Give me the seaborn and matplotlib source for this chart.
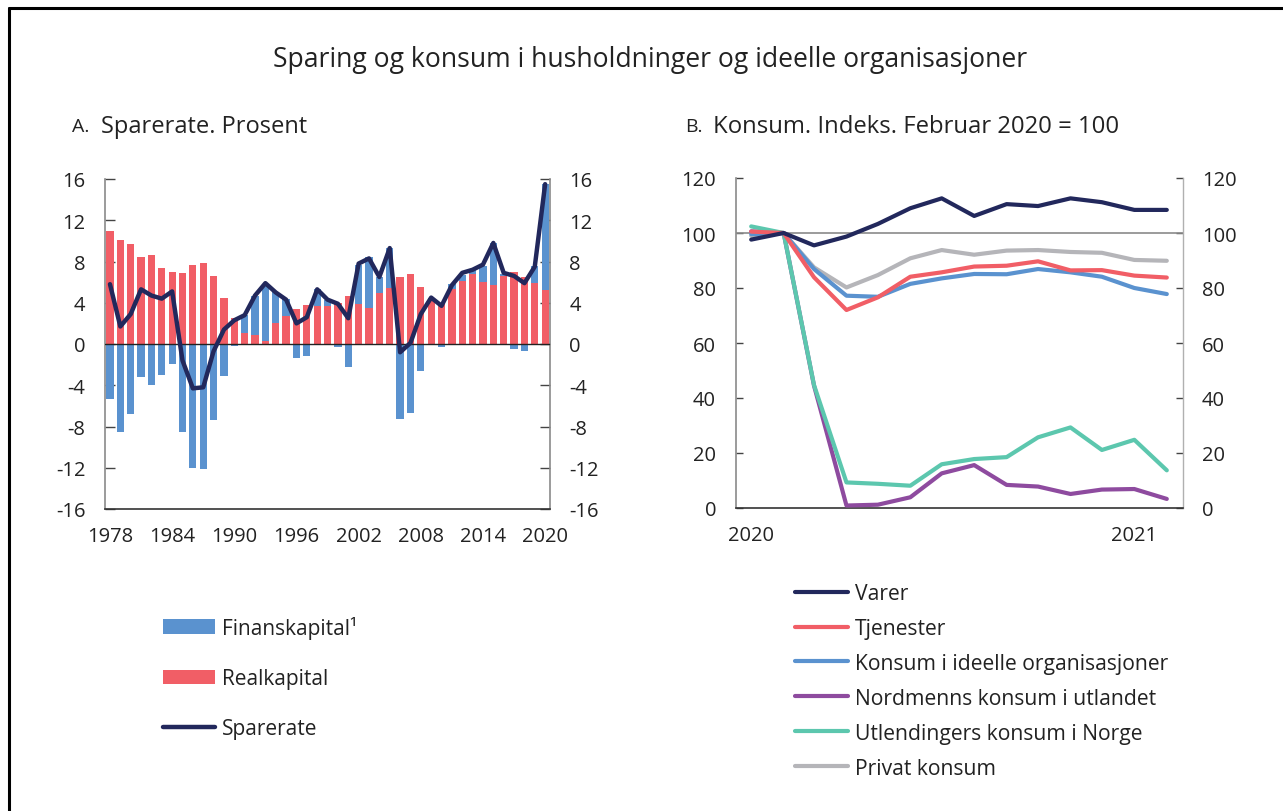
import matplotlib
matplotlib.use("Agg")
import matplotlib.pyplot as plt
from matplotlib.patches import Patch
from matplotlib.lines import Line2D
import seaborn as sns
import pandas as pd
import numpy as np

# ---------------- data ----------------
years = list(range(1978, 2021))
realkapital = [11.0, 10.1, 9.7, 8.4, 8.6, 7.4, 7.0, 6.9, 7.7, 7.9, 6.6, 4.5, 2.5,
               1.1, 0.9, 0.3, 2.0, 2.7, 3.4, 3.8, 3.7, 3.65, 4.0,
               4.7, 3.9, 3.5, 4.9, 5.4, 6.5, 6.8, 5.5, 4.4, 3.9,
               5.3, 6.1, 6.8, 6.0, 5.7, 6.6, 7.0, 6.5, 5.9, 5.2]
finanskapital = [-5.3, -8.5, -6.8, -3.2, -4.0, -3.0, -1.9, -8.5, -12.0, -12.1, -7.4, -3.1, -0.2,
                 1.7, 3.8, 5.5, 3.0, 1.7, -1.4, -1.2, 1.6, 0.6, -0.3,
                 -2.2, 3.8, 4.9, 1.6, 3.9, -7.3, -6.7, -2.6, 0.1, -0.3,
                 0.5, 0.6, 0.4, 1.6, 4.1, 0.2, -0.5, -0.7, 1.7, 10.3]
sparerate = [5.8, 1.7, 2.9, 5.3, 4.7, 4.4, 5.1, -1.6, -4.3, -4.2, -0.7, 1.4, 2.3,
             2.8, 4.7, 5.9, 5.0, 4.3, 2.0, 2.6, 5.3, 4.3, 3.9,
             2.5, 7.8, 8.3, 6.5, 9.3, -0.8, 0.1, 2.9, 4.5, 3.7,
             5.7, 6.9, 7.2, 7.7, 9.8, 6.9, 6.6, 5.9, 7.5, 15.5]

months = ["2020-01", "2020-02", "2020-03", "2020-04", "2020-05", "2020-06", "2020-07",
          "2020-08", "2020-09", "2020-10", "2020-11", "2020-12", "2021-01", "2021-02"]
varer = [97.6, 100.0, 95.5, 98.7, 103.3, 109.0, 112.6, 106.2, 110.5, 109.8, 112.6, 111.2, 108.4, 108.4]
tjenester = [100.5, 100.0, 83.9, 72.0, 76.6, 84.1, 85.7, 87.8, 88.1, 89.7, 86.4, 86.5, 84.5, 83.8]
ideelle = [99.6, 100.0, 86.9, 77.2, 76.8, 81.5, 83.5, 85.1, 85.0, 86.9, 85.7, 84.1, 80.0, 77.8]
nordmenn = [100.6, 100.0, 44.5, 0.9, 1.2, 3.9, 12.6, 15.6, 8.4, 7.8, 5.1, 6.7, 6.9, 3.3]
utlendinger = [102.4, 100.0, 44.7, 9.3, 8.8, 8.1, 15.9, 17.8, 18.5, 25.7, 29.3, 21.1, 24.8, 13.7]
privat = [99.0, 100.0, 87.5, 80.2, 84.7, 90.8, 93.8, 92.1, 93.6, 93.8, 93.1, 92.8, 90.2, 89.9]

left_ticks = [16, 12, 8, 4, 0, -4, -8, -12, -16]
left_xticks = [1978, 1984, 1990, 1996, 2002, 2008, 2014, 2020]
right_ticks = [0, 20, 40, 60, 80, 100, 120]

series_names = ["Varer", "Tjenester", "Konsum i ideelle organisasjoner",
                "Nordmenns konsum i utlandet", "Utlendingers konsum i Norge", "Privat konsum"]
series_values = [varer, tjenester, ideelle, nordmenn, utlendinger, privat]

# ---------------- style ----------------
NAVY = "#22285c"
RED = "#f15e66"
BLUE = "#5a92cf"
PURPLE = "#8e4b9f"
TEAL = "#5cc7ae"
GRAY = "#b5b5b9"
series_colors = [NAVY, RED, BLUE, PURPLE, TEAL, GRAY]

sns.set_theme(style="white")
plt.rcParams["font.family"] = ["Open Sans", "DejaVu Sans"]
plt.rcParams["text.color"] = "#222222"
plt.rcParams["axes.labelcolor"] = "#222222"
plt.rcParams["xtick.color"] = "#222222"
plt.rcParams["ytick.color"] = "#222222"

fig = plt.figure(figsize=(12.83, 8.12), dpi=100)
fig.patch.set_facecolor("white")

# frame (left and top edges)
fig.add_artist(Line2D([8.5 / 1283, 8.5 / 1283], [0, 1 - 8.5 / 812], transform=fig.transFigure,
                      color="black", lw=2.2))
fig.add_artist(Line2D([8.5 / 1283, 1], [1 - 8.5 / 812, 1 - 8.5 / 812], transform=fig.transFigure,
                      color="black", lw=2.2))

fig.text(650 / 1283, 1 - 60 / 812, "Sparing og konsum i husholdninger og ideelle organisasjoner",
         ha="center", va="center", fontsize=19.1)
fig.text(72 / 1283, 1 - 127 / 812, "A.", ha="left", va="center", fontsize=14)
fig.text(101 / 1283, 1 - 127 / 812, "Sparerate. Prosent", ha="left", va="center", fontsize=17)
fig.text(685 / 1283, 1 - 127 / 812, "B.", ha="left", va="center", fontsize=14)
fig.text(713 / 1283, 1 - 127 / 812, "Konsum. Indeks. Februar 2020 = 100", ha="left", va="center", fontsize=17.2)

# ---------------- panel A ----------------
axA = fig.add_axes([105 / 1283, 1 - 510 / 812, 445 / 1283, 330 / 812])
fin = np.array(finanskapital)
real = np.array(realkapital)
fin_bottom = np.where(fin > 0, real, 0.0)
axA.bar(years, real, width=0.7, color=RED, edgecolor="none", zorder=2)
axA.bar(years, fin, width=0.7, bottom=fin_bottom, color=BLUE, edgecolor="none", zorder=2)
axA.axhline(0, color="#222222", lw=1.0, zorder=3)
dfA = pd.DataFrame({"year": years, "sparerate": sparerate})
sns.lineplot(data=dfA, x="year", y="sparerate", ax=axA, color=NAVY, lw=3.2, zorder=4)
axA.set_xlim(1977.52, 2020.47)
axA.set_ylim(-16, 16)
axA.set_yticks(left_ticks)
axA.set_yticklabels([str(t) for t in left_ticks])
axA.set_xticks(left_xticks)
axA.set_xticklabels([str(t) for t in left_xticks])
axA.set_xlabel("")
axA.set_ylabel("")
axA.tick_params(axis="y", which="both", direction="in", length=7, width=1.0, color="#444444",
                left=True, right=True, labelleft=True, labelright=True, labelsize=14.5, pad=14)
axA.tick_params(axis="x", length=0, labelsize=14.5, pad=12)
for s in ["left", "right"]:
    axA.spines[s].set_color("#8a8a8a")
    axA.spines[s].set_linewidth(1.2)
axA.spines["bottom"].set_color("#333333")
axA.spines["bottom"].set_linewidth(1.2)
axA.spines["top"].set_visible(False)

legA_handles = [Patch(facecolor=BLUE, edgecolor="none", label="Finanskapital\u00b9"),
                Patch(facecolor=RED, edgecolor="none", label="Realkapital"),
                Line2D([0], [0], color=NAVY, lw=3.2, label="Sparerate")]
fig.legend(handles=legA_handles, loc="upper left", bbox_to_anchor=(163 / 1283, 1 - 617 / 812),
           frameon=False, fontsize=15, handlelength=2.5, handletextpad=0.35, labelspacing=1.4,
           borderpad=0, borderaxespad=0)

# ---------------- panel B ----------------
axB = fig.add_axes([735.5 / 1283, 1 - 509 / 812, 447 / 1283, 330 / 812])
dfB = pd.DataFrame({"month": np.tile(pd.to_datetime(months), len(series_names)),
                    "serie": np.repeat(series_names, len(months)),
                    "value": np.concatenate(series_values)})
axB.axhline(100, color="#8a8a8a", lw=1.2, zorder=1)
order_draw = ["Privat konsum", "Nordmenns konsum i utlandet", "Utlendingers konsum i Norge",
              "Konsum i ideelle organisasjoner", "Tjenester", "Varer"]
for name in order_draw:
    i = series_names.index(name)
    sns.lineplot(data=dfB[dfB["serie"] == name], x="month", y="value", ax=axB,
                 color=series_colors[i], lw=3.0, zorder=3)
axB.set_xlim(pd.Timestamp("2019-12-17"), pd.Timestamp("2021-02-16"))
axB.set_ylim(0, 120)
axB.set_yticks(right_ticks)
axB.set_yticklabels([str(t) for t in right_ticks])
axB.set_xticks([pd.Timestamp("2020-01-01"), pd.Timestamp("2021-01-01")])
axB.set_xticklabels(["2020", "2021"])
axB.set_xlabel("")
axB.set_ylabel("")
axB.tick_params(axis="y", which="both", direction="in", length=5, width=1.0, color="#444444",
                left=True, right=True, labelleft=True, labelright=True, labelsize=14.5, pad=14)
axB.tick_params(axis="x", length=0, labelsize=14.5, pad=12)
axB.spines["left"].set_color("#8a8a8a")
axB.spines["right"].set_color("#b0b0b0")
axB.spines["left"].set_linewidth(1.2)
axB.spines["right"].set_linewidth(1.0)
axB.spines["bottom"].set_color("#333333")
axB.spines["bottom"].set_linewidth(1.2)
axB.spines["top"].set_visible(False)

legB_handles = [Line2D([0], [0], color=c, lw=3.0, label=n) for n, c in zip(series_names, series_colors)]
fig.legend(handles=legB_handles, loc="upper left", bbox_to_anchor=(795 / 1283, 1 - 584 / 812),
           frameon=False, fontsize=15.2, handlelength=2.5, handletextpad=0.35, labelspacing=0.66,
           borderpad=0, borderaxespad=0)

fig.savefig("out.png", dpi=100, facecolor="white")
